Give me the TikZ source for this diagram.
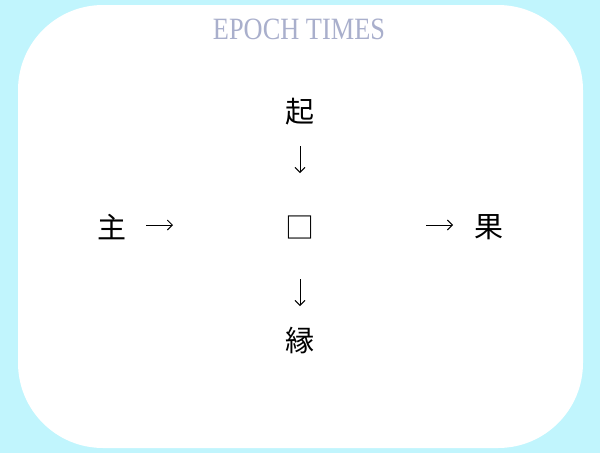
\documentclass[tikz,border=0pt]{standalone}
\usepackage{fontspec}
\setmainfont{Liberation Serif}
\newfontfamily\cjk{Noto Sans CJK JP}
\usepackage{tikz}
\usetikzlibrary{arrows.meta}
\definecolor{skyback}{HTML}{C1F5FD}
\definecolor{mastgrey}{HTML}{A9AFCC}
\tikzset{flow/.style={line width=0.9pt, -{Straight Barb[length=5pt,width=10pt,line width=0.9pt]}}}

\begin{document}
\begin{tikzpicture}[x=1pt, y=-1pt]
	% Default action for each node
	\tikzstyle{every node}=[inner sep=0pt, font=\cjk\fontsize{29}{29}\selectfont];

	% Card
	\fill[skyback] (0,0) rectangle (600,453);
	\useasboundingbox (0,0) rectangle (600,453);
	\fill[white, rounded corners=85pt] (18,5) rectangle (583,448);
	\node[text=mastgrey, font=\fontsize{31}{31}\selectfont, xscale=0.85] (mast) at (299,29) {EPOCH TIMES};

									\node (qi) at (300,112) {起};
									\coordinate (upstart) at (300,146);	\coordinate (upend) at (300,173);
	\node (zhu) at (112,227) {主};	\coordinate (leftstart) at (146,225);	\node (blank) at (300,227) {□};	\coordinate (rightstart) at (426,225);	\node (guo) at (489,227) {果};
									\coordinate (leftend) at (173,225);	\coordinate (rightend) at (453,225);
									\coordinate (downstart) at (300,279);	\coordinate (downend) at (300,306);
									\node (yuan) at (300,340) {縁};

	% Arrows
	\draw[flow] (upstart) -- (upend);
	\draw[flow] (leftstart) -- (leftend);
	\draw[flow] (rightstart) -- (rightend);
	\draw[flow] (downstart) -- (downend);
\end{tikzpicture}
\end{document}
